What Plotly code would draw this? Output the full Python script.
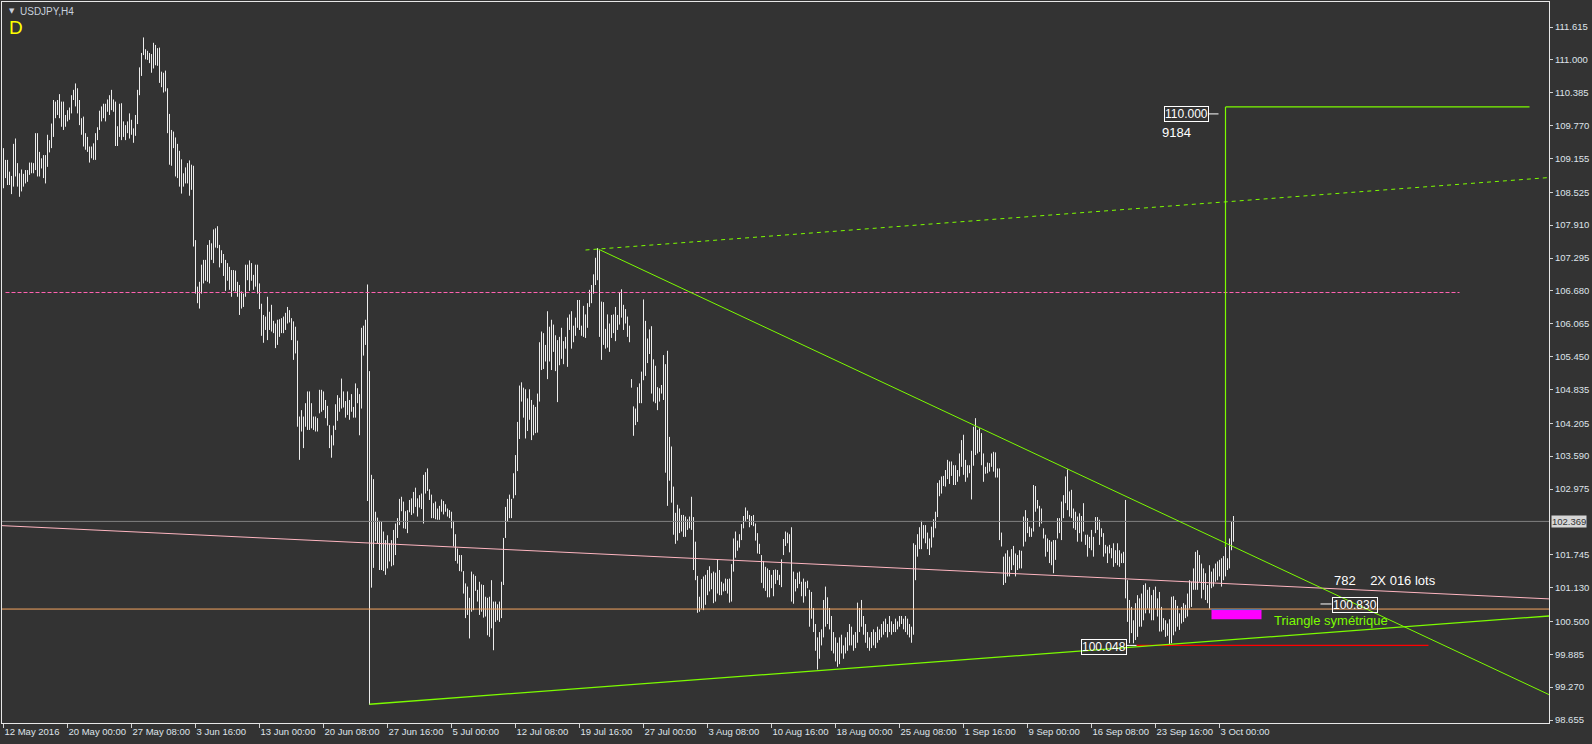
import plotly.graph_objects as go

# ---------------- data (USDJPY H4, one value per 4-hour bar) ----------------
bar_high = [
 109.35,109.13,109.13,108.91,108.83,109.43,109.53,109.07,108.88,108.95,
 108.87,108.94,108.94,109.08,109.08,109.07,109.63,109.63,109.28,109.16,
 109.22,109.22,109.60,109.50,109.81,110.25,110.22,110.25,110.36,110.22,
 110.22,109.97,110.06,110.11,110.34,110.44,110.56,110.47,110.25,109.91,
 109.94,109.63,109.56,109.38,109.38,109.44,109.63,109.74,110.05,110.13,
 110.18,110.18,110.26,110.34,110.44,110.26,110.22,109.76,110.18,110.19,
 109.85,109.78,109.85,110.00,109.88,109.72,109.97,110.44,110.86,111.13,
 111.42,111.20,111.17,111.13,111.11,111.32,111.28,111.22,111.23,110.78,
 110.76,110.80,110.47,109.99,109.69,109.66,109.55,109.43,109.30,109.14,
 108.88,108.99,109.07,109.12,109.04,109.02,107.63,106.76,106.85,107.17,
 107.26,107.26,107.54,107.63,107.57,107.83,107.85,107.89,107.54,107.44,
 107.37,107.26,107.20,107.13,107.07,107.07,107.06,106.85,106.79,106.67,
 106.63,107.17,107.17,107.25,107.20,106.98,107.17,107.17,106.82,106.44,
 106.23,106.20,106.57,106.29,106.42,106.12,106.07,106.14,106.15,106.17,
 106.20,106.27,106.38,106.32,106.17,106.11,106.01,105.75,104.33,104.45,
 104.33,104.58,104.80,104.80,104.58,104.33,
 104.33,104.30,104.83,104.83,104.80,104.64,104.53,104.17,103.98,104.16,
 104.56,104.73,104.68,105.04,104.80,104.62,104.80,104.64,104.75,104.51,
 104.95,104.86,104.75,105.99,106.03,106.14,106.80,105.18,103.24,103.16,
 102.55,102.44,102.38,102.36,102.18,102.02,102.11,101.96,102.02,102.21,
 102.33,102.43,102.79,102.83,102.74,102.56,102.58,102.77,102.80,102.92,
 103.00,102.80,102.86,102.89,103.24,103.29,103.36,102.97,102.87,102.71,
 102.74,102.61,102.66,102.78,102.75,102.69,102.61,102.58,102.55,102.38,
 102.13,101.86,101.74,101.74,101.44,101.21,101.15,100.94,101.43,101.38,
 101.35,101.09,101.24,101.19,101.18,100.96,100.94,100.96,101.27,100.87,
 100.87,100.82,100.87,101.24,102.06,102.64,102.79,102.87,102.79,103.27,
 103.61,104.23,104.91,104.97,104.87,104.84,104.67,104.84,104.64,104.55,
 104.51,104.76,105.72,105.92,105.89,105.67,106.30,106.01,106.14,106.05,
 105.85,105.76,105.82,105.99,105.74,105.82,106.18,106.24,106.30,106.03,
 106.18,106.51,106.51,106.03,106.40,106.24,106.45,106.70,106.79,106.99,
 107.30,107.48,107.44,106.48,106.47,105.97,106.24,106.07,106.23,106.24,
 106.38,106.23,106.65,106.71,106.42,106.34,106.20,106.03,105.03,
 104.52,104.48,104.88,104.95,105.17,106.52,106.12,105.79,105.96,106.02,
 105.40,105.28,104.88,104.86,104.92,105.48,105.31,105.56,103.95,103.77,
 103.02,102.53,102.68,102.61,102.49,102.49,102.46,102.41,102.46,102.83,
 102.45,101.99,101.35,100.96,101.29,101.34,101.37,101.46,101.53,101.40,
 101.43,101.41,101.66,101.46,101.24,101.21,101.30,101.29,101.30,101.57,
 102.05,102.18,102.01,102.13,102.32,102.47,102.63,102.57,102.49,102.47,
 102.49,102.33,102.15,101.95,101.74,101.63,101.52,101.49,101.46,101.37,
 101.46,101.47,101.46,101.37,101.66,102.04,102.18,102.16,102.13,102.26,
 101.43,101.29,101.41,101.43,101.24,101.30,101.24,101.26,101.09,
 101.05,100.75,100.45,100.20,100.30,100.35,100.90,101.15,100.95,100.75,
 100.60,100.30,100.20,100.10,100.20,100.25,100.05,100.20,100.30,100.45,
 100.40,100.25,100.30,100.85,100.75,100.90,100.60,100.45,100.30,100.20,
 100.30,100.35,100.30,100.40,100.35,100.45,100.50,100.55,100.45,100.60,
 100.50,100.45,100.55,100.50,100.60,100.60,100.55,100.60,100.55,100.45,100.40,
 101.96,101.93,102.13,102.26,102.38,102.30,102.30,102.16,102.05,102.27,
 102.41,102.55,103.09,103.14,103.21,103.22,103.33,103.52,103.49,103.49,103.42,
 103.42,103.33,103.64,103.89,103.99,103.52,103.42,103.42,103.69,104.14,
 104.30,104.08,104.11,104.02,103.64,103.39,103.47,103.46,103.64,103.67,
 103.66,103.36,103.36,102.16,101.71,101.77,101.83,101.71,101.85,101.91,
 101.77,101.74,101.83,101.82,102.46,102.58,102.43,102.27,102.24,103.05,
 103.03,102.77,102.66,102.61,102.24,102.12,102.05,102.02,101.99,102.02,
 102.02,102.43,102.43,102.74,102.86,103.21,103.34,102.93,102.96,102.61,
 102.55,102.46,102.52,102.47,102.71,102.12,102.12,102.08,102.21,102.08,
 102.45,102.45,102.40,102.24,102.15,101.93,101.90,101.93,101.87,101.96,
 101.83,101.96,101.83,101.77,101.80,102.77,
 101.27,100.90,100.77,100.52,100.84,100.99,100.93,101.02,101.18,101.21,
 101.09,101.14,100.99,101.09,101.15,100.93,101.05,100.77,100.56,100.52,
 100.46,100.54,100.96,100.97,100.90,100.79,100.65,100.77,100.84,100.81,
 101.02,101.27,101.24,101.49,101.80,101.83,101.74,101.58,101.49,101.40,
 101.18,101.55,101.43,101.49,101.58,101.62,101.65,101.68,101.72,101.90,
 101.68,102.05,102.36,102.47,
]
bar_low = [
 108.60,108.79,108.66,108.66,108.49,108.63,108.82,108.63,108.44,108.54,
 108.63,108.69,108.72,108.85,108.88,108.88,108.94,108.82,108.82,108.97,
 108.79,108.69,109.00,109.27,109.35,109.56,109.91,109.97,109.91,109.75,
 109.69,109.75,109.85,109.88,110.00,110.25,110.13,110.00,109.78,109.60,
 109.38,109.32,109.28,109.08,109.16,109.13,109.13,109.50,109.69,109.85,
 109.91,109.85,110.03,109.97,110.06,110.03,109.39,109.39,109.56,109.50,
 109.56,109.50,109.63,109.53,109.60,109.45,109.58,109.80,110.34,110.70,
 111.09,111.01,111.00,110.94,110.76,110.84,110.90,110.89,110.57,110.49,
 110.39,110.41,109.63,109.04,109.02,109.35,108.82,108.79,108.63,108.50,
 108.63,108.69,108.69,108.46,108.57,107.51,106.63,106.45,106.35,106.63,
 106.82,106.87,106.85,106.82,107.26,107.20,107.49,107.48,107.12,107.20,
 106.96,106.68,106.87,106.70,106.57,106.68,106.67,106.57,106.23,106.35,
 106.38,106.57,106.88,106.68,106.87,106.70,106.76,106.63,106.34,105.84,
 105.71,105.95,105.76,105.95,105.92,105.89,105.61,105.67,105.82,105.89,
 105.89,105.95,106.07,106.09,105.76,105.39,105.51,104.14,103.52,104.05,
 103.74,104.14,104.08,104.08,104.11,104.08,
 104.05,104.05,104.39,104.42,104.45,104.30,104.16,103.74,103.56,103.79,
 104.08,104.25,104.42,104.48,104.50,104.31,104.36,104.27,104.42,104.31,
 104.31,104.58,103.98,104.48,105.47,105.67,102.75,98.94,101.13,101.50,
 102.00,101.96,101.46,101.46,101.44,101.37,101.49,101.62,101.53,101.55,
 101.74,102.06,102.30,102.56,102.24,102.23,102.15,102.54,102.49,102.52,
 102.64,102.46,102.63,102.60,102.33,102.89,102.94,102.77,102.43,102.43,
 102.41,102.40,102.40,102.55,102.50,102.55,102.46,102.43,102.24,101.90,
 101.63,101.58,101.44,101.43,101.02,100.56,100.62,100.18,100.68,100.71,
 101.07,100.87,100.62,100.68,100.57,100.59,100.24,100.21,100.37,99.96,
 100.49,100.52,100.49,100.56,101.18,102.06,102.36,102.43,102.43,102.80,
 102.86,103.31,103.91,104.61,104.31,103.92,104.06,104.27,103.89,103.98,
 104.02,104.03,104.61,105.20,105.22,105.36,105.03,105.36,105.20,105.54,
 105.18,104.60,105.29,105.41,105.31,105.60,105.26,105.95,105.60,105.72,
 105.84,105.99,105.95,105.84,105.82,105.80,105.99,106.38,106.45,106.63,
 106.79,106.88,105.82,105.39,105.67,105.60,105.62,105.54,105.80,105.89,
 105.74,105.95,106.05,106.18,105.95,106.07,105.82,105.72,104.87,
 103.97,104.17,104.23,104.58,104.58,105.01,105.09,105.33,105.50,104.76,
 104.61,104.58,104.45,104.61,104.76,104.64,103.28,102.66,103.13,102.72,
 102.12,101.95,102.01,102.15,102.18,102.08,102.08,102.21,102.24,102.21,
 101.46,101.27,100.66,100.68,100.74,100.71,100.81,100.99,101.06,101.10,
 100.84,100.87,101.02,100.99,100.99,101.06,101.07,101.02,100.85,100.87,
 101.43,101.69,101.82,101.88,102.02,102.24,102.36,102.41,102.26,102.30,
 102.28,102.01,101.77,101.76,101.22,101.12,101.07,100.95,100.95,101.12,
 100.97,101.20,101.27,101.18,101.14,101.74,101.91,101.96,101.79,100.87,
 100.83,101.06,101.12,101.20,100.97,100.85,100.97,101.12,100.40,
 100.55,100.30,99.95,99.60,99.80,100.05,100.20,100.40,100.45,100.35,
 99.95,99.90,99.75,99.65,99.70,99.90,99.80,99.90,99.95,100.05,
 100.05,99.95,100.00,100.10,100.30,100.40,100.25,100.10,100.00,99.95,
 100.00,100.05,100.00,100.10,100.15,100.20,100.25,100.30,100.20,100.30,
 100.25,100.30,100.30,100.35,100.40,100.45,100.35,100.30,100.25,100.20,100.10,
 100.25,101.27,101.71,101.85,101.85,102.05,101.96,101.85,101.74,101.88,
 102.07,102.24,102.45,102.84,102.89,103.03,103.02,103.16,103.07,103.22,103.05,
 103.05,103.11,103.21,103.39,103.24,103.11,103.19,103.27,102.78,103.41,
 103.61,103.64,103.67,103.42,103.11,103.26,103.27,103.30,103.39,103.30,
 103.19,103.19,102.02,101.90,101.18,101.22,101.34,101.34,101.46,101.55,
 101.34,101.46,101.49,101.49,101.90,101.99,102.15,102.08,102.08,102.18,
 102.55,102.61,102.27,102.33,102.05,101.71,101.80,101.59,101.55,101.40,
 101.65,102.05,102.15,102.02,102.43,102.71,102.58,102.46,102.43,102.24,
 102.21,101.99,102.15,101.99,102.18,101.93,101.71,101.87,101.83,101.71,
 102.15,102.21,101.93,102.08,101.71,101.77,101.59,101.77,101.68,101.52,
 101.59,101.55,101.52,101.59,101.59,100.93,
 100.49,100.09,100.28,100.09,100.15,100.21,100.40,100.40,100.52,100.65,
 100.74,100.65,100.52,100.52,100.74,100.59,100.31,100.31,100.34,100.21,
 100.23,100.07,100.09,100.24,100.31,100.40,100.34,100.46,100.49,100.56,
 100.59,100.74,100.77,101.09,101.09,101.09,101.24,100.93,101.09,100.90,
 100.84,100.74,101.12,101.15,101.24,101.27,101.34,101.15,101.27,101.34,
 101.46,101.49,101.83,101.99,
]

time_labels = ["12 May 2016", "20 May 00:00", "27 May 08:00", "3 Jun 16:00",
               "13 Jun 00:00", "20 Jun 08:00", "27 Jun 16:00", "5 Jul 00:00",
               "12 Jul 08:00", "19 Jul 16:00", "27 Jul 00:00", "3 Aug 08:00",
               "10 Aug 16:00", "18 Aug 00:00", "25 Aug 08:00", "1 Sep 16:00",
               "9 Sep 00:00", "16 Sep 08:00", "23 Sep 16:00", "3 Oct 00:00"]
bars_per_label = 32

price_ticks = [98.655, 99.270, 99.885, 100.500, 101.130, 101.745, 102.975,
               103.590, 104.205, 104.835, 105.450, 106.065, 106.680, 107.295,
               107.910, 108.525, 109.155, 109.770, 110.385, 111.000, 111.615]
price_tick_text = ["98.655", "99.270", "99.885", "100.500", "101.130", "101.745",
                   "102.975", "103.590", "104.205", "104.835", "105.450", "106.065",
                   "106.680", "107.295", "107.910", "108.525", "109.155", "109.770",
                   "110.385", "111.000", "111.615"]
last_price = 102.369

# drawn objects (bar index, price)
support_line = [(183, 98.95), (772.75, 100.60)]
resistance_line = [(297.5, 107.46), (772.75, 99.13)]
channel_line = [(291, 107.445), (772.75, 108.80)]
pink_trend = [(-0.75, 102.29), (772.75, 100.92)]
pink_level = (1, 728, 106.65)
orange_level = 100.73
red_level = (566.5, 712.5, 100.05)
target_vertical = (611, 101.89, 110.12)
target_horizontal_end = 763
zone_box = (604, 629, 100.54, 100.72)

X_RANGE = [-0.75, 772.75]
Y_RANGE = [98.599, 112.083]

BG = "#333333"
FG = "#dfe3ea"
GREEN = "#7CFC00"
FONT = "Liberation Sans"

# ---------------- bars ----------------
xs, ys = [], []
for i, (h, l) in enumerate(zip(bar_high, bar_low)):
    xs += [i, i, None]
    ys += [l, h, None]

fig = go.Figure()
fig.add_trace(go.Scatter(x=xs, y=ys, mode="lines",
                         line=dict(color="#ececec", width=1),
                         hoverinfo="skip", showlegend=False))

shapes = []
def seg(p0, p1, color, width=1, dash="solid"):
    shapes.append(dict(type="line", xref="x", yref="y",
                       x0=p0[0], y0=p0[1], x1=p1[0], y1=p1[1],
                       line=dict(color=color, width=width, dash=dash)))

# horizontal levels
seg((X_RANGE[0], orange_level), (X_RANGE[1], orange_level), "#F4A460")
seg((X_RANGE[0], last_price), (X_RANGE[1], last_price), "#808080")
seg((pink_level[0], pink_level[2]), (pink_level[1], pink_level[2]), "#FF62B0", 1, "4px,2px")
seg(pink_trend[0], pink_trend[1], "#FFB6C1")
seg((red_level[0], red_level[2]), (red_level[1], red_level[2]), "#FF0000", 1.3)
# triangle
seg(support_line[0], support_line[1], GREEN, 1.3)
seg(resistance_line[0], resistance_line[1], GREEN, 1)
seg(channel_line[0], channel_line[1], GREEN, 1, "4px,4px")
# target
seg((target_vertical[0], target_vertical[1]), (target_vertical[0], target_vertical[2]), GREEN, 1.2)
seg((target_vertical[0], target_vertical[2]), (target_horizontal_end, target_vertical[2]), GREEN, 1.2)
# zone box
shapes.append(dict(type="rect", xref="x", yref="y", x0=zone_box[0], x1=zone_box[1],
                   y0=zone_box[2], y1=zone_box[3], fillcolor="#FF00FF",
                   line=dict(width=0)))
seg((zone_box[0], zone_box[3]), (zone_box[1], zone_box[3]), "#4682B4", 1)
# label connectors
seg((602.5, 109.99), (607.5, 109.99), "#ffffff")
seg((658.5, 100.825), (664, 100.825), "#ffffff")
seg((561.5, 100.05), (566.5, 100.05), "#ffffff")

annotations = [
    dict(xref="paper", yref="paper", x=0.003, y=0.9875, xanchor="left", yanchor="middle",
         text="▼", showarrow=False, font=dict(family="DejaVu Sans", size=7, color="#c8d0dc")),
    dict(xref="paper", yref="paper", x=0.0105, y=0.9875, xanchor="left", yanchor="middle",
         text="USDJPY,H4", showarrow=False, font=dict(family=FONT, size=10, color="#c8d0dc")),
    dict(xref="paper", yref="paper", x=0.0035, y=0.964, xanchor="left", yanchor="middle",
         text="D", showarrow=False, font=dict(family=FONT, size=19, color="#FFFF00")),
    dict(xref="x", yref="y", x=602.5, y=109.98, xanchor="right", yanchor="middle",
         text="110.000", showarrow=False, bordercolor="#ffffff", borderwidth=1, borderpad=0,
         font=dict(family=FONT, size=12, color="#ffffff")),
    dict(xref="x", yref="y", x=578, y=109.64, xanchor="left", yanchor="middle",
         text="9184", showarrow=False, font=dict(family=FONT, size=13, color="#ffffff")),
    dict(xref="x", yref="y", x=664, y=101.27, xanchor="left", yanchor="middle",
         text="782\u00a0\u00a0\u00a0 2X 016 lots", showarrow=False,
         font=dict(family=FONT, size=13, color="#ffffff")),
    dict(xref="x", yref="y", x=664, y=100.815, xanchor="left", yanchor="middle",
         text="100.830", showarrow=False, bordercolor="#ffffff", borderwidth=1, borderpad=0,
         font=dict(family=FONT, size=12, color="#ffffff")),
    dict(xref="x", yref="y", x=634, y=100.525, xanchor="left", yanchor="middle",
         text="Triangle symétrique", showarrow=False,
         font=dict(family=FONT, size=13, color=GREEN)),
    dict(xref="x", yref="y", x=561.5, y=100.02, xanchor="right", yanchor="middle",
         text="100.048", showarrow=False, bordercolor="#ffffff", borderwidth=1, borderpad=0,
         font=dict(family=FONT, size=12, color="#ffffff")),
    dict(xref="paper", yref="y", x=1, xshift=2, y=last_price, xanchor="left", yanchor="middle",
         text="102.369", showarrow=False, bgcolor="#d6d6d6", borderpad=0,
         font=dict(family=FONT, size=9.5, color="#333333")),
]

fig.update_layout(
    width=1592, height=744,
    margin=dict(l=2, r=43, t=2, b=21, pad=0),
    paper_bgcolor=BG, plot_bgcolor=BG,
    shapes=shapes, annotations=annotations,
    showlegend=False, hovermode=False, dragmode=False,
    xaxis=dict(range=X_RANGE, showgrid=False, zeroline=False, automargin=False,
               tickvals=[k * bars_per_label for k in range(len(time_labels))],
               ticktext=time_labels, ticks="outside", ticklen=4, tickwidth=1,
               tickangle=0, tickcolor="#d0d0d0", ticklabelposition="outside right",
               tickfont=dict(family=FONT, size=9.5, color=FG),
               showline=True, linecolor="#e8e8e8", linewidth=1, mirror=True),
    yaxis=dict(range=Y_RANGE, side="right", showgrid=False, zeroline=False, automargin=False,
               tickvals=price_ticks, ticktext=price_tick_text, ticks="outside",
               ticklen=3, tickwidth=1, tickcolor="#d0d0d0",
               tickfont=dict(family=FONT, size=9.5, color=FG),
               showline=True, linecolor="#e8e8e8", linewidth=1, mirror=True),
)

fig.write_html("out.html", config={"displayModeBar": False, "staticPlot": True},
               post_script="document.body.style.margin='0px';document.body.style.overflow='hidden';")
